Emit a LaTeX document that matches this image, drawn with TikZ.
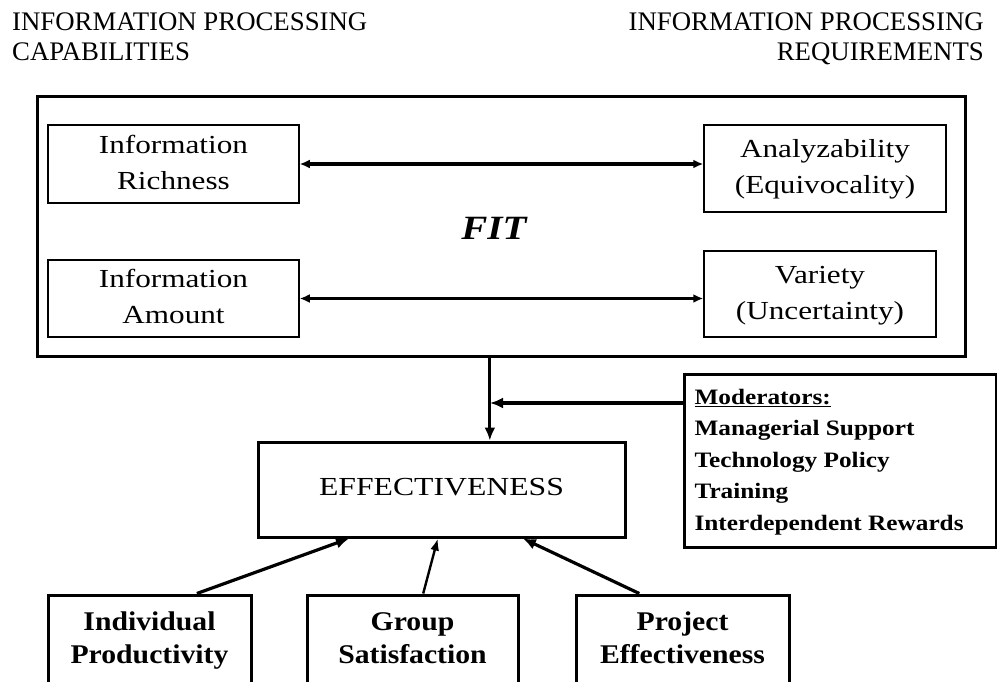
\documentclass[tikz,border=0pt]{standalone}
\usepackage{fontspec}
\setmainfont{Liberation Serif}
\usepackage{graphicx}
\usetikzlibrary{arrows.meta,calc}
\newcommand{\stx}[2]{\scalebox{#1}[1]{\begin{tabular}{@{}c@{}}#2\end{tabular}}}
\begin{document}
\begin{tikzpicture}[x=1pt,y=-1pt,
  thinbox/.style={draw,line width=1.5pt,inner sep=0pt,font=\fontsize{26}{36}\selectfont},
  thickbox/.style={draw,line width=3pt,inner sep=0pt},
  botbox/.style={thickbox,minimum height=90pt,font=\fontsize{27}{33}\selectfont\bfseries},
  heading/.style={inner sep=0pt,font=\fontsize{26.8}{30}\selectfont},
  arr/.style={line width=3.2pt,-{Latex[length=13pt,width=11pt]}},
  thinarr/.style={line width=2.4pt,-{Latex[length=12pt,width=9pt]}},
  dbl/.style={line width=3.2pt,{Latex[length=10pt,width=9pt]}-{Latex[length=10pt,width=9pt]}}]
\useasboundingbox (0,0) rectangle (997,681);

% headings
\node[heading,anchor=base west] (hl) at (12,30)
  {\begin{tabular}[t]{@{}l@{}}INFORMATION PROCESSING\\CAPABILITIES\end{tabular}};
\node[heading,anchor=base east] (hr) at (984,30)
  {\begin{tabular}[t]{@{}r@{}}INFORMATION PROCESSING\\REQUIREMENTS\end{tabular}};

% FIT box
\node[thickbox,minimum width=928pt,minimum height=260pt] (fitbox) at (501,226) {};
\node[inner sep=0pt,font=\fontsize{34}{40}\selectfont\bfseries\itshape] (fitlbl) at (494,231) {\stx{1.15}{FIT}};

\node[thinbox,minimum width=251pt,minimum height=78pt] (rich) at (173.5,164) {\stx{1.2}{Information\\Richness}};
\node[thinbox,minimum width=242pt,minimum height=87pt] (anal) at (825,168.5) {\stx{1.2}{Analyzability\\(Equivocality)}};
\node[thinbox,minimum width=251pt,minimum height=77pt] (amt) at (173.5,298.5) {\stx{1.2}{Information\\Amount}};
\node[thinbox,minimum width=232pt,minimum height=86pt] (var) at (820,294) {\stx{1.2}{Variety\\(Uncertainty)}};

\draw[dbl] (rich.east) -- (rich.east -| anal.west);
\draw[dbl] (amt.east) -- (amt.east -| var.west);

% effectiveness
\node[thickbox,minimum width=367pt,minimum height=95pt,font=\fontsize{26}{30}\selectfont] (eff) at (441.5,489.5) {\stx{1.22}{EFFECTIVENESS}};

% moderators
\node[thickbox,anchor=north west,inner xsep=10pt,inner ysep=7.75pt,font=\fontsize{22}{31.5}\selectfont\bfseries] (mod) at (683,373)
  {\makebox[292pt][l]{\scalebox{1.15}[1]{\begin{tabular}{@{}l@{}}\underline{Moderators:}\\Managerial Support\\Technology Policy\\Training\\Interdependent Rewards\end{tabular}}}};

\coordinate (ft) at ($(fitbox.south west)!0.488!(fitbox.south east)$);
\draw[arr] (ft) -- (ft |- eff.north);
\coordinate (mj) at (490,403);
\draw[arr] (mod.west |- mj) -- (mj);

% bottom boxes
\node[botbox,minimum width=203pt] (ip) at (149.5,640) {\stx{1.1}{Individual\\Productivity}};
\node[botbox,minimum width=211pt] (gs) at (412.5,640) {\stx{1.1}{Group\\Satisfaction}};
\node[botbox,minimum width=213pt] (pe) at (682.5,640) {\stx{1.1}{Project\\Effectiveness}};

\draw[arr] ($(ip.north west)!0.73!(ip.north east)$) -- ($(eff.south west)!0.25!(eff.south east)$);
\draw[thinarr] ($(gs.north west)!0.55!(gs.north east)$) -- ($(eff.south west)!0.49!(eff.south east)$);
\draw[arr] ($(pe.north west)!0.30!(pe.north east)$) -- ($(eff.south west)!0.72!(eff.south east)$);
\end{tikzpicture}
\end{document}
